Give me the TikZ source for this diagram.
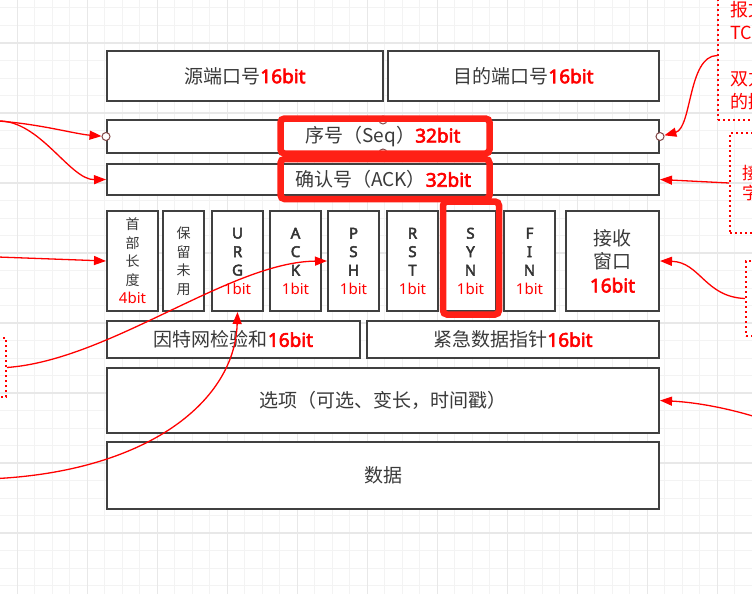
\documentclass[tikz,border=0pt]{standalone}
\usepackage{fontspec}
\setmainfont{Noto Sans CJK SC}
\newfontfamily\latinsans{Noto Sans}[AutoFakeBold=3]
\usetikzlibrary{arrows.meta}
\definecolor{boxgray}{RGB}{64,64,64}
\definecolor{txtgray}{RGB}{58,58,58}
\definecolor{hlred}{RGB}{255,32,22}
\definecolor{linkred}{RGB}{255,0,0}
\definecolor{gridthin}{RGB}{243,243,243}
\definecolor{gridthick}{RGB}{232,232,232}
\definecolor{portbrown}{RGB}{130,70,70}
\newcommand{\bitred}[1]{{\color{linkred}\latinsans\bfseries #1}}
\newcommand{\bitthin}[1]{{\color{linkred}\latinsans\fontsize{15}{18.5}\selectfont #1}}
\newcommand{\fl}[1]{{\color{black!80}\latinsans\bfseries\fontsize{15}{18.5}\selectfont #1}}

\begin{document}
\begin{tikzpicture}[x=1pt, y=-1pt,
  field/.style={draw=boxgray, fill=white, line width=2pt, inner sep=0pt, text=txtgray,
    font=\fontsize{19}{23}\selectfont},
  flagbox/.style={field, minimum width=51pt, minimum height=100pt, align=center,
    font=\fontsize{14}{18.5}\selectfont},
  port/.style={circle, draw=portbrown, fill=white, line width=1pt, minimum size=8pt, inner sep=0pt},
  hilite/.style={draw=hlred, line width=6.5pt, rounded corners=4pt},
  note/.style={draw=linkred, line width=2pt, dash pattern=on 2pt off 3pt, text=linkred,
    align=left, inner xsep=12pt},
  link/.style={draw=linkred, line width=1.3pt, -{Triangle[length=12pt, width=9pt]}},
]
  \useasboundingbox (0,0) rectangle (752,594);
  \clip (0,0) rectangle (752,594);
  \fill[white] (0,0) rectangle (752,594);
  % background grid
  \foreach \i in {0,...,42} \draw[gridthin, line width=1pt] ({17.3+17.5*\i},0) -- ++(0,594);
  \foreach \i in {0,...,33} \draw[gridthin, line width=1pt] (0,{8+17.5*\i}) -- ++(752,0);
  \foreach \i in {0,...,10} \draw[gridthick, line width=1.4pt] ({17.3+70*\i},0) -- ++(0,594);
  \foreach \i in {0,...,7} \draw[gridthick, line width=1.4pt] (0,{43+70*\i}) -- ++(752,0);

  \node[field, minimum width=276pt, minimum height=50pt] (srcport) at (245,76) {源端口号\bitred{16bit}};
  \node[field, minimum width=271pt, minimum height=50pt] (dstport) at (523.5,76) {目的端口号\bitred{16bit}};
  \node[field, minimum width=552pt, minimum height=33pt] (seq) at (383,136.5) {序号（Seq）\bitred{32bit}};
  \node[field, minimum width=552pt, minimum height=31pt] (ack) at (383,179.5) {确认号（ACK）\bitred{32bit}};
  \node[flagbox] (hlen) at (132.5,261) {首\\部\\长\\度\\\bitthin{4bit}};
  \node[flagbox, minimum width=41pt] (resv) at (183.5,261) {保\\留\\未\\用};
  \foreach \nm/\a/\b/\c/\x in {urg/U/R/G/237.5, ackf/A/C/K/295.5, psh/P/S/H/353.5,
      rst/R/S/T/412.5, syn/S/Y/N/470.5, fin/F/I/N/529.5}
    \node[flagbox] (\nm) at (\x,261) {\fl{\a}\\\fl{\b}\\\fl{\c}\\\bitthin{1bit}};
  \node[field, minimum width=93pt, minimum height=100pt, align=center,
    font=\fontsize{19}{23.5}\selectfont] (win) at (612.5,261) {接收\\窗口\\\bitred{16bit}};
  \node[field, minimum width=253pt, minimum height=37pt] (cksum) at (233.5,339.5) {因特网检验和\bitred{16bit}};
  \node[field, minimum width=292pt, minimum height=37pt] (urgptr) at (513,339.5) {紧急数据指针\bitred{16bit}};
  \node[field, minimum width=552pt, minimum height=65pt] (opt) at (383,400.5) {选项（可选、变长，时间戳）};
  \node[field, minimum width=552pt, minimum height=67pt] (data) at (383,475.5) {数据};

  \node[port] (seqL) at (seq.west) {};
  \node[port] (seqR) at (seq.east) {};
  \node[port] (seqT) at (383,120) {};
  \node[port] (seqB) at (383,153) {};

  \draw[hilite] (280.5,118.5) rectangle (489.5,153.5);
  \draw[hilite] (280.5,159) rectangle (489.5,199);
  \draw[hilite] (443,201.5) rectangle (499,314.5);

  \node[note, minimum width=184pt, minimum height=129pt, text width=160pt,
    font=\fontsize{18}{23}\selectfont, anchor=north west] (noteTR) at (717,-10) {报文\\TCP\\[23pt]双方\\的握};
  \node[note, minimum width=184pt, minimum height=100pt, text width=160pt,
    font=\fontsize{17}{19.5}\selectfont, anchor=north west] (noteMR) at (729,132) {接\\字};
  \node[note, minimum width=100pt, minimum height=75pt, anchor=north west] (noteLR) at (745,260) {};
  \node[note, minimum width=60pt, minimum height=59pt, anchor=north east] (noteL) at (7,337) {};

  \coordinate (offA) at (-2,121);
  \coordinate (offB) at (-2,257);
  \coordinate (offC) at (-2,478.5);
  \coordinate (offD) at (756,417);

  \draw[link] (offA) .. controls (40,124) and (75,134) .. (seqL);
  \draw[link] (offA) .. controls (40,120) and (70,180) .. (ack.west);
  \draw[link] (offB) -- (hlen.west);
  \draw[link] (noteL.east) .. controls (110,360) and (230,262) .. (psh.west);
  \draw[link] (offC) .. controls (150,470) and (235,400) .. (urg.south);
  \draw[link] (noteTR.west) .. controls (688,56) and (692,128) .. (seqR);
  \draw[link] (noteMR.west) -- (ack.east);
  \draw[link] (noteLR.west) .. controls (705,297) and (700,262) .. (win.east);
  \draw[link] (offD) .. controls (720,406) and (690,402) .. (opt.east);
\end{tikzpicture}
\end{document}
